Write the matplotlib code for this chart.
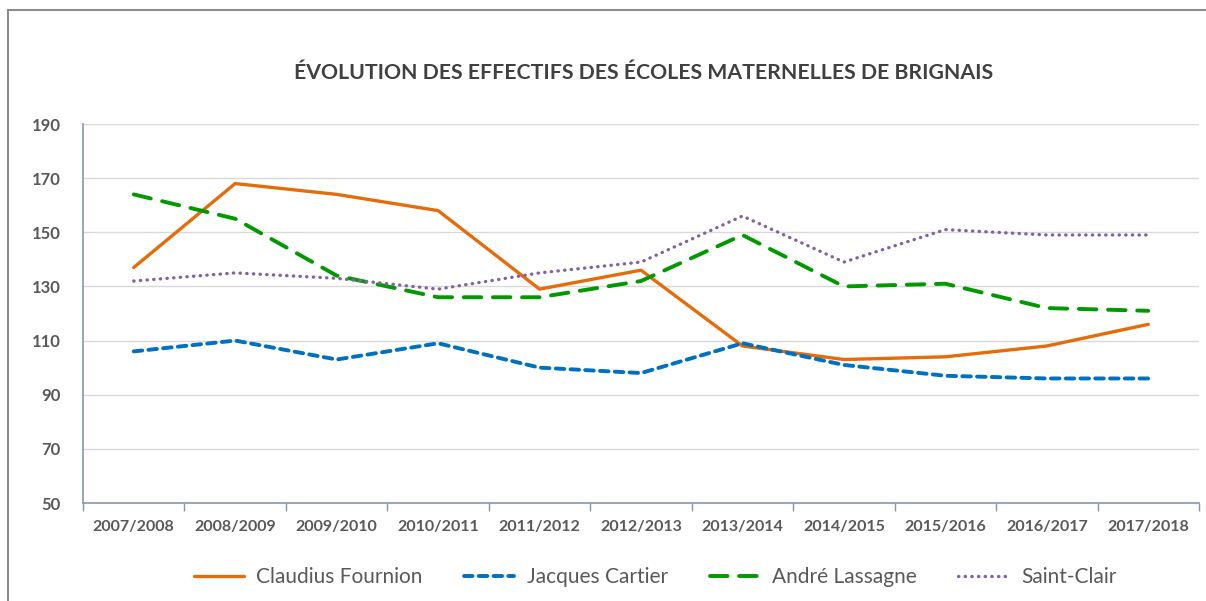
import matplotlib
matplotlib.use("Agg")
import matplotlib.pyplot as plt
from matplotlib.patches import Rectangle

years = ["2007/2008", "2008/2009", "2009/2010", "2010/2011", "2011/2012", "2012/2013",
         "2013/2014", "2014/2015", "2015/2016", "2016/2017", "2017/2018"]
claudius = [137, 168, 164, 158, 129, 136, 108, 103, 104, 108, 116]
jacques = [106, 110, 103, 109, 100, 98, 109, 101, 97, 96, 96]
andre = [164, 155, 134, 126, 126, 132, 149, 130, 131, 122, 121]
saintclair = [132, 135, 133, 129, 135, 139, 156, 139, 151, 149, 149]
yticks = [50, 70, 90, 110, 130, 150, 170, 190]
title = "ÉVOLUTION DES EFFECTIFS DES ÉCOLES MATERNELLES DE BRIGNAIS"

plt.rcParams['font.family'] = ['Lato', 'DejaVu Sans']

W, H = 1206, 601
fig = plt.figure(figsize=(W / 100, H / 100), dpi=100)
fig.patch.set_facecolor("white")

# chart border (cropped chart frame)
fig.add_artist(Rectangle((8 / W, -0.1), 1.2, (601 - 10) / H + 0.1, transform=fig.transFigure,
                         fill=False, edgecolor="#8c8c8c", linewidth=1.5))

ax = fig.add_axes([83 / W, (601 - 503) / H, (1199 - 83) / W, (503 - 124) / H])
x = list(range(len(years)))
lw = 2.4
ax.plot(x, claudius, color="#E46C0A", lw=lw, solid_capstyle="round", label="Claudius Fournion")
ax.plot(x, jacques, color="#0070C0", lw=lw + 0.4, linestyle=(0, (2.2, 1.6)),
        dash_capstyle="round", label="Jacques Cartier")
ax.plot(x, andre, color="#009900", lw=lw + 0.4, linestyle=(0, (4.5, 3.0)),
        dash_capstyle="round", label="André Lassagne")
ax.plot(x, saintclair, color="#8064A2", lw=lw, linestyle=(0, (0.1, 1.9)),
        dash_capstyle="round", label="Saint-Clair")

ax.set_xlim(-0.5, len(years) - 0.5)
ax.set_ylim(50, 190)
ax.set_yticks(yticks)
ax.set_yticklabels([str(v) for v in yticks], fontsize=12, fontweight="bold", color="#595959")
ax.yaxis.grid(True, color="#d9d9d9", lw=1.0)
ax.set_axisbelow(True)
ax.tick_params(axis="y", length=0, pad=16)

ax.set_xticks(x)
ax.set_xticklabels(years, fontsize=11.5, fontweight="bold", color="#595959")
ax.tick_params(axis="x", length=0, pad=12)
ax.set_xticks([i - 0.5 for i in range(len(years) + 1)], minor=True)
ax.tick_params(axis="x", which="minor", length=6, direction="out", color="#8497b0", width=1)

for s in ["top", "right"]:
    ax.spines[s].set_visible(False)
ax.spines["left"].set_color("#8497b0")
ax.spines["bottom"].set_color("#8497b0")
ax.spines["left"].set_linewidth(1.2)
ax.spines["bottom"].set_linewidth(1.2)

fig.text(644 / W, 1 - 73 / H, title, ha="center", va="center", fontsize=15.3,
         fontweight="bold", color="#404040")

leg = fig.legend(loc="center", bbox_to_anchor=(655 / W, 1 - 577 / H), ncol=4, frameon=False,
                 fontsize=15, handlelength=2.4, columnspacing=2.0, handletextpad=0.6)
for t in leg.get_texts():
    t.set_color("#595959")

fig.savefig("out.png", dpi=100, facecolor="white")
